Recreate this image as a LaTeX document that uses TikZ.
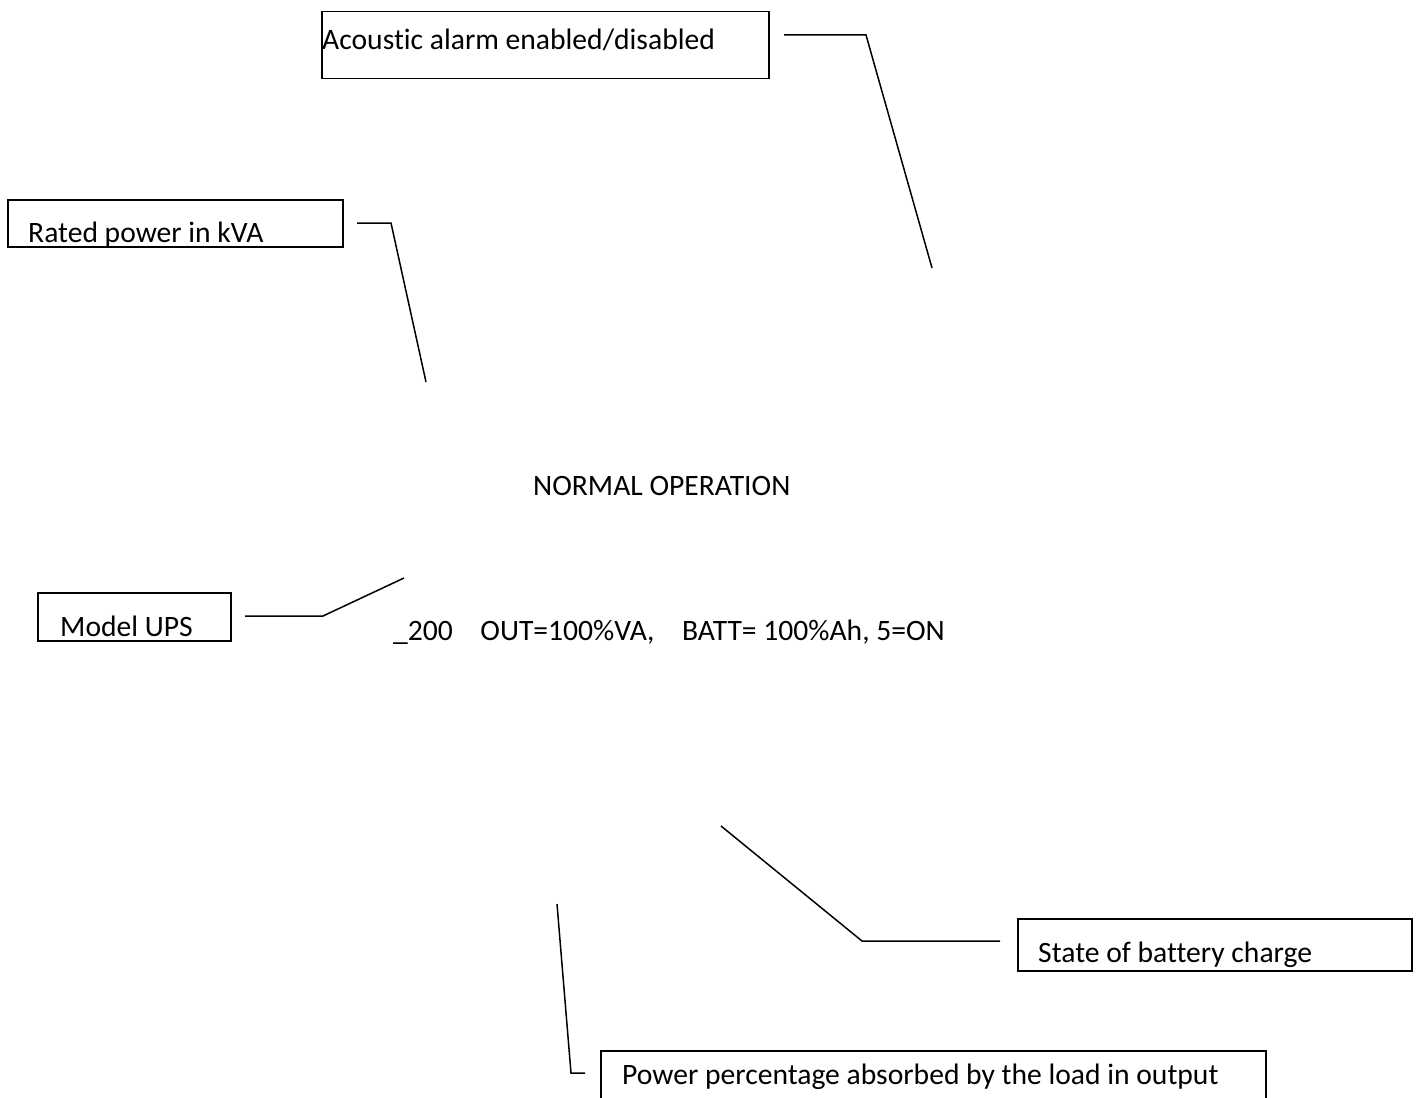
\documentclass[tikz,border=0pt]{standalone}
\usepackage{fontspec}
\setmainfont{Carlito}[Ligatures=NoCommon]
\usetikzlibrary{positioning}

\begin{document}
\begin{tikzpicture}[
  x=1pt, y=-1pt,
  box/.style={draw, line width=1.5pt, inner sep=0pt, anchor=north west},
  lbl/.style={inner sep=0pt, anchor=base west, font=\fontsize{29.6}{35}\selectfont},
  lead/.style={line width=1.5pt}
]
\useasboundingbox (0,0) rectangle (1420,1097);

% callout boxes
\node[box, minimum width=447pt, minimum height=67pt] (alarm) at (321,11) {};
\node[box, minimum width=335pt, minimum height=47pt] (rated) at (7,199) {};
\node[box, minimum width=193pt, minimum height=48pt] (model) at (37,592) {};
\node[box, minimum width=394pt, minimum height=52pt] (charge) at (1017,918) {};
\node[box, minimum width=665pt, minimum height=80pt] (load) at (600,1050) {};

% box texts, cut off at the box edge
\begin{scope}
  \clip (alarm.south west) rectangle (alarm.north east);
  \node[lbl] (alarmtext) at (322,50) {Acoustic alarm enabled/disabled};
\end{scope}
\begin{scope}
  \clip (rated.south west) rectangle (rated.north east);
  \node[lbl] (ratedtext) at (28,242) {Rated power in kVA};
\end{scope}
\begin{scope}
  \clip (model.south west) rectangle (model.north east);
  \node[lbl] (modeltext) at (60,636) {Model UPS};
\end{scope}
\begin{scope}
  \clip (charge.south west) rectangle (charge.north east);
  \node[lbl] (chargetext) at (1038,962) {State of battery charge};
\end{scope}
\begin{scope}
  \clip (load.south west) rectangle (load.north east);
  \node[lbl] (loadtext) at (622,1084) {Power percentage absorbed by the load in output};
\end{scope}

% display lines
\node[lbl] (mode) at (533,495) {NORMAL OPERATION};
\node[lbl] (status) at (393,640) {\_200\hspace{0.93em}OUT=100\%VA,\hspace{0.93em}BATT= 100\%Ah, 5=ON};

% leader lines
\coordinate (alarmstart) at (784,35);
\coordinate (alarmknee) at (866,35);
\coordinate (alarmend) at (932,268);
\coordinate (ratedstart) at (357,223);
\coordinate (ratedknee) at (391,223);
\coordinate (ratedend) at (426,382);
\coordinate (modelstart) at (245,616);
\coordinate (modelknee) at (323,616);
\coordinate (modelend) at (404,578);
\coordinate (chargestart) at (1000,941);
\coordinate (chargeknee) at (862,941);
\coordinate (chargeend) at (721,826);
\coordinate (loadstart) at (585,1073);
\coordinate (loadknee) at (571,1073);
\coordinate (loadend) at (557,904);

\draw[lead] (alarmstart) -- (alarmknee) -- (alarmend);
\draw[lead] (ratedstart) -- (ratedknee) -- (ratedend);
\draw[lead] (modelstart) -- (modelknee) -- (modelend);
\draw[lead] (chargestart) -- (chargeknee) -- (chargeend);
\draw[lead] (loadstart) -- (loadknee) -- (loadend);
\end{tikzpicture}
\end{document}
